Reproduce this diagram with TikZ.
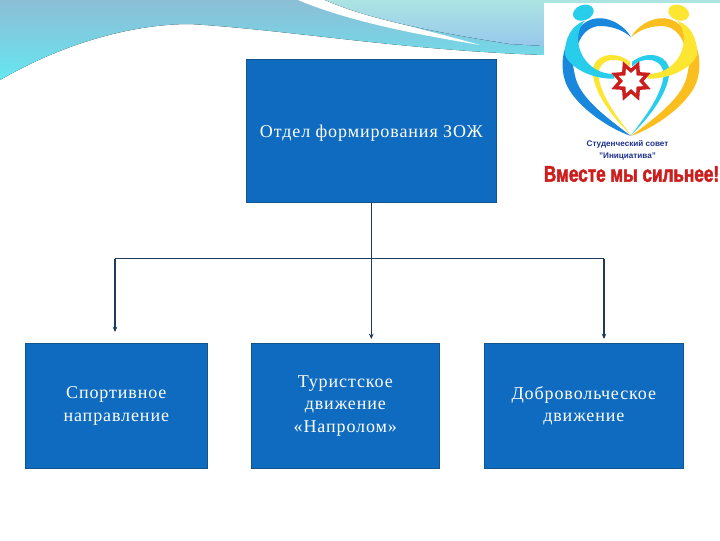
\documentclass[tikz,border=0pt]{standalone}
\usepackage{fontspec}
\setmainfont[LetterSpace=5]{Liberation Serif}
\setsansfont{Liberation Sans}
\newfontfamily\mottofont[FakeStretch=0.756,FakeBold=2]{Liberation Sans Bold}
\usetikzlibrary{arrows.meta,positioning,shapes.geometric}
\definecolor{tile}{RGB}{15,107,192}
\definecolor{tileedge}{RGB}{20,84,140}
\definecolor{wire}{RGB}{30,60,90}
\definecolor{skytop}{RGB}{140,190,214}
\definecolor{skylow}{RGB}{100,232,242}
\definecolor{palehi}{RGB}{172,228,226}
\definecolor{palelo}{RGB}{150,200,236}
\definecolor{logoblue}{RGB}{25,135,220}
\definecolor{logosky}{RGB}{40,205,235}
\definecolor{logoamber}{RGB}{250,190,30}
\definecolor{logolemon}{RGB}{252,230,50}
\definecolor{logored}{RGB}{205,30,30}
\definecolor{logonavy}{RGB}{30,50,140}
\tikzset{
  tilebox/.style={draw=tileedge,fill=tile,text=white,align=center,inner sep=0pt,font=\fontsize{13.5}{16.6}\selectfont,execute at begin node={\rule{0pt}{14pt}}},
  wireline/.style={draw=wire,line width=0.8pt},
  wirearrow/.style={wireline,-{Stealth[length=4pt,width=3.5pt]}},
  logostar/.style={star,star points=8,star point ratio=1.7,shape border rotate=22.5,inner sep=0pt}
}
% one half of the heart: body, arc, arm and head, inner line
\newcommand{\logohalf}[3]{
  \fill[#3] (228,405) .. controls (160,340) and (115,270) .. (113,215) .. controls (112,170) and (170,145) .. (225,185) -- (225,200) .. controls (190,165) and (130,175) .. (130,225) .. controls (135,280) and (180,345) .. (228,405) -- cycle;
  \fill[#1] (45,115) .. controls (20,150) and (15,210) .. (35,255) .. controls (65,320) and (160,385) .. (228,408) .. controls (165,360) and (80,300) .. (62,235) .. controls (50,190) and (50,150) .. (55,125) -- cycle;
  \fill[#1] (228,112) .. controls (205,70) and (150,45) .. (110,58) .. controls (80,68) and (60,95) .. (50,125) -- (68,135) .. controls (80,100) and (105,78) .. (135,78) .. controls (170,78) and (205,90) .. (228,112) -- cycle;
  \fill[#2] (90,62) .. controls (50,75) and (28,115) .. (30,165) .. controls (50,210) and (120,238) .. (178,236) -- (178,222) .. controls (125,222) and (85,190) .. (72,140) .. controls (65,110) and (72,80) .. (90,62) -- cycle;
  \fill[#2,rotate around={20:(85,38)}] (85,38) ellipse (32 and 23);
}
\begin{document}
\begin{tikzpicture}[x=0.75pt,y=-0.75pt]
  \useasboundingbox (0,0) rectangle (720,540);
  % background swoosh
  \fill[top color=skytop,bottom color=skylow,middle color=skytop!55!skylow] (0,0) -- (0,80) .. controls (60,45) and (130,24) .. (190,24) .. controls (290,30) and (400,50) .. (544,55) -- (544,0) -- cycle;
  \fill[white] (298,0) .. controls (350,22) and (420,35) .. (480,45) .. controls (420,28) and (360,15) .. (325,0) -- cycle;
  \fill[top color=palehi,bottom color=palelo] (325,0) .. controls (370,20) and (440,33) .. (510,44) -- (544,46) -- (544,0) -- cycle;
  \fill[palehi] (544,0) rectangle (720,3);
  % boxes
  \node[tilebox,minimum width=187.75pt,minimum height=107pt] (dept) at (371.3,130.5) {Отдел формирования ЗОЖ};
  \node[tilebox,minimum width=136.75pt,minimum height=94pt] (sport) at (116.3,406) {Спортивное\\направление};
  \node[tilebox,minimum width=141.25pt,minimum height=94pt] (hike) at (345.3,406) {Туристское\\движение\\«Напролом»};
  \node[tilebox,minimum width=149.5pt,minimum height=94pt] (volunteer) at (583.8,406) {Добровольческое\\движение};
  % connectors
  \coordinate (forkleft) at (115,258.5);
  \coordinate (forkright) at (604,258.5);
  \coordinate (endleft) at (115,332);
  \coordinate (endmid) at (371.3,339);
  \coordinate (endright) at (604,339);
  \draw[wirearrow] (dept.south) -- (endmid);
  \draw[wireline] (forkleft) -- (forkright);
  \draw[wirearrow] (forkleft) -- (endleft);
  \draw[wirearrow] (forkright) -- (endright);
  % logo
  \fill[white] (544,3) rectangle (720,190);
  \begin{scope}[shift={(555,0)},x=0.25pt,y=-0.25pt]
    \logohalf{logoblue}{logosky}{logolemon}
    \begin{scope}[shift={(456,0)},xscale=-1]
      \logohalf{logoamber}{logolemon}{logosky}
    \end{scope}
    \node[logostar,fill=logored,minimum size=32pt] (starout) at (228,243) {};
    \node[logostar,fill=white,minimum size=20pt] (starin) at (228,243) {};
  \end{scope}
  \node[text=logonavy,font=\sffamily\bfseries\fontsize{6.1}{9}\selectfont,align=center,inner sep=0pt] (council) at (627.5,150) {Студенческий совет\\"Инициатива"};
  \node[text=logored,font=\mottofont\fontsize{17}{20}\selectfont,inner sep=0pt] (motto) at (631.5,174) {Вместе мы сильнее!};
\end{tikzpicture}
\end{document}
